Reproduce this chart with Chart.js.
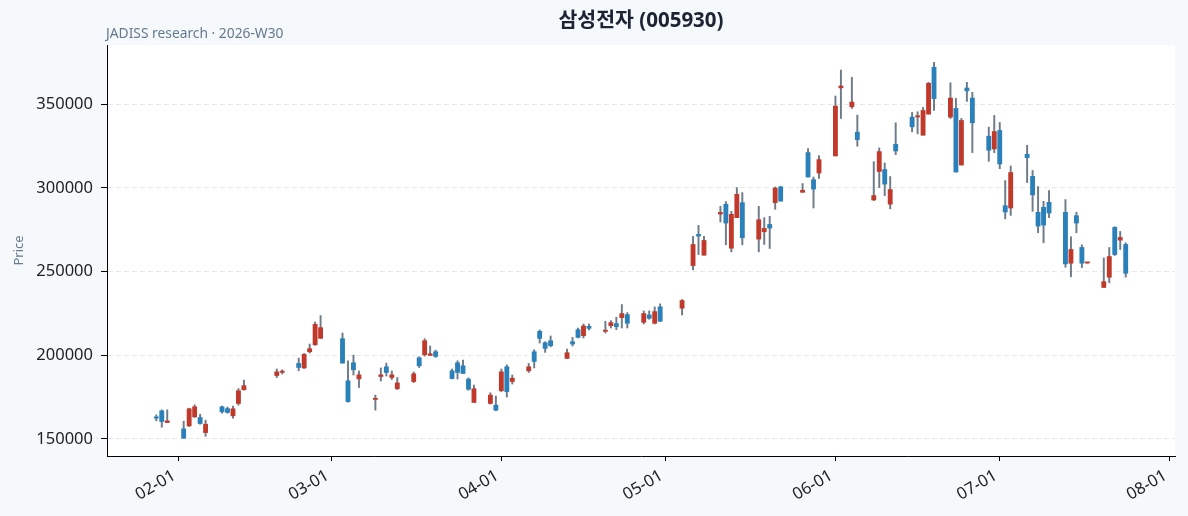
<!DOCTYPE html>
<html>
<head>
<meta charset="utf-8">
<script src="https://cdn.jsdelivr.net/npm/chart.js@4.4.1/dist/chart.umd.min.js"></script>
<style>
  html, body { margin: 0; padding: 0; background: #f5f9fc; }
  #wrap { width: 1188px; height: 516px; }
</style>
</head>
<body>
<div id="wrap"><canvas id="c" width="1188" height="516"></canvas></div>
<script>
'use strict';
// 삼성전자 (005930) — daily candles, Jan-Jul 2026
const TITLE = '삼성전자 (005930)';
const SUBTITLE = 'JADISS research · 2026-W30';
const Y_LABEL = 'Price';

const DATES = [
  '2026-01-28', '2026-01-29', '2026-01-30', '2026-02-02', '2026-02-03', '2026-02-04', '2026-02-05', '2026-02-06',
  '2026-02-09', '2026-02-10', '2026-02-11', '2026-02-12', '2026-02-13', '2026-02-19', '2026-02-20', '2026-02-23',
  '2026-02-24', '2026-02-25', '2026-02-26', '2026-02-27', '2026-03-03', '2026-03-04', '2026-03-05', '2026-03-06',
  '2026-03-09', '2026-03-10', '2026-03-11', '2026-03-12', '2026-03-13', '2026-03-16', '2026-03-17', '2026-03-18',
  '2026-03-19', '2026-03-20', '2026-03-23', '2026-03-24', '2026-03-25', '2026-03-26', '2026-03-27', '2026-03-30',
  '2026-03-31', '2026-04-01', '2026-04-02', '2026-04-03', '2026-04-06', '2026-04-07', '2026-04-08', '2026-04-09',
  '2026-04-10', '2026-04-13', '2026-04-14', '2026-04-15', '2026-04-16', '2026-04-17', '2026-04-20', '2026-04-21',
  '2026-04-22', '2026-04-23', '2026-04-24', '2026-04-27', '2026-04-28', '2026-04-29', '2026-04-30', '2026-05-04',
  '2026-05-06', '2026-05-07', '2026-05-08', '2026-05-11', '2026-05-12', '2026-05-13', '2026-05-14', '2026-05-15',
  '2026-05-18', '2026-05-19', '2026-05-20', '2026-05-21', '2026-05-22', '2026-05-26', '2026-05-27', '2026-05-28',
  '2026-05-29', '2026-06-01', '2026-06-02', '2026-06-04', '2026-06-05', '2026-06-08', '2026-06-09', '2026-06-10',
  '2026-06-11', '2026-06-12', '2026-06-15', '2026-06-16', '2026-06-17', '2026-06-18', '2026-06-19', '2026-06-22',
  '2026-06-23', '2026-06-24', '2026-06-25', '2026-06-26', '2026-06-29', '2026-06-30', '2026-07-01', '2026-07-02',
  '2026-07-03', '2026-07-06', '2026-07-07', '2026-07-08', '2026-07-09', '2026-07-10', '2026-07-13', '2026-07-14',
  '2026-07-15', '2026-07-16', '2026-07-17', '2026-07-20', '2026-07-21', '2026-07-22', '2026-07-23', '2026-07-24',
];
const OPEN = [
  163200, 166800, 159800, 156000, 157800, 163200, 162800, 153800, 169200, 168100, 163800, 171200, 179400, 187900, 189800, 195100,
  192400, 202100, 206300, 210100, 209900, 184700, 195500, 185900, 173600, 187300, 193100, 186700, 180000, 184300, 198500, 200300,
  199900, 202100, 190700, 195500, 193700, 185700, 171800, 171200, 170200, 178800, 193100, 184300, 190700, 202100, 214300, 207500,
  208700, 198100, 208100, 215300, 211700, 217300, 214300, 217700, 218900, 222500, 224300, 219700, 224100, 219100, 228900, 228100,
  253600, 272200, 259800, 284400, 290200, 264000, 282200, 291200, 269400, 273800, 278200, 291200, 300600, 297400, 321100, 304900,
  308900, 319100, 359800, 348500, 333300, 292800, 309800, 311000, 290300, 326100, 342300, 342400, 331500, 344100, 372100, 342300,
  347500, 313700, 359700, 353700, 330900, 323300, 334300, 289400, 288000, 320100, 306900, 285400, 288400, 291400, 285400, 255000,
  283400, 264400, 255100, 240500, 246600, 276400, 268800, 266200,
];
const HIGH = [
  164400, 167400, 167400, 160600, 168400, 170400, 164800, 161200, 169600, 169000, 169600, 180100, 185200, 191800, 191300, 198300,
  201100, 206700, 219900, 223700, 213300, 196700, 200100, 190600, 176200, 192400, 195300, 190600, 186700, 190000, 199100, 209900,
  205500, 203100, 191800, 196700, 197100, 186500, 182200, 177600, 175600, 191800, 194300, 188200, 195100, 203300, 215100, 208100,
  211500, 203700, 210700, 216300, 218700, 218700, 220300, 220700, 222700, 230300, 225500, 226500, 226500, 228900, 230700, 233300,
  271000, 277600, 271000, 289000, 291800, 286000, 300200, 297200, 289000, 282200, 283000, 300600, 301000, 302600, 323500, 306500,
  319300, 354900, 370400, 366100, 343500, 315700, 323900, 314900, 306800, 338900, 345100, 345500, 348100, 363100, 375100, 362800,
  353500, 341500, 363100, 357100, 336300, 343300, 339100, 304400, 313100, 325500, 310400, 300800, 292000, 298400, 293000, 270800,
  285400, 266000, 255500, 258200, 264400, 276800, 274000, 267200,
];
const LOW = [
  160800, 157000, 159800, 150400, 157400, 162800, 158800, 151600, 165400, 165400, 162400, 170200, 179200, 186700, 188800, 190700,
  192100, 201300, 205900, 210100, 195300, 172000, 188200, 180700, 167200, 184600, 187600, 185500, 179500, 183700, 192700, 199500,
  199900, 198700, 185800, 185800, 189100, 179100, 171800, 170800, 166800, 178300, 175000, 182800, 189700, 192400, 207300, 201700,
  205000, 198100, 205500, 210300, 210300, 215100, 213300, 216300, 215300, 216300, 216300, 218700, 221500, 218700, 220300, 224100,
  251000, 260200, 259800, 279600, 266000, 261800, 282200, 266000, 261800, 266200, 263800, 287200, 292100, 297400, 306500, 288000,
  305700, 319100, 341500, 347500, 324900, 292400, 300200, 295400, 287500, 319900, 333500, 332300, 331500, 344100, 346300, 341500,
  309500, 313700, 351700, 321100, 315900, 321100, 311500, 281500, 283600, 303200, 286000, 273200, 267200, 282200, 252600, 246900,
  273200, 252400, 255000, 240500, 243300, 259600, 263200, 246700,
];
const CLOSE = [
  162400, 160400, 160800, 150400, 168000, 169200, 159200, 158800, 166200, 165800, 168000, 178800, 181800, 190100, 190100, 192700,
  200500, 203900, 218500, 216500, 195300, 172300, 191300, 188300, 173900, 188300, 189700, 188300, 183500, 188900, 193700, 208700,
  200900, 199300, 186100, 189700, 189100, 179700, 180000, 176200, 167200, 190100, 178300, 186300, 193100, 196300, 210100, 204100,
  205700, 201500, 206700, 210700, 217500, 216100, 214900, 219500, 217100, 224900, 219100, 224900, 222100, 226100, 220300, 232700,
  266200, 271200, 268600, 285400, 279000, 284200, 296200, 270200, 281000, 275800, 276000, 299900, 292100, 298600, 306500, 299300,
  316900, 348900, 360900, 351300, 328900, 295400, 321700, 302300, 299000, 322100, 336500, 342900, 346300, 362500, 353300, 353700,
  309500, 340300, 358000, 338900, 322500, 333700, 314300, 285600, 309200, 318100, 295800, 277200, 277800, 285000, 254600, 263200,
  279000, 255000, 255400, 244000, 259000, 260200, 270400, 249000,
];
const X_TICKS = ['2026-02-01', '2026-03-01', '2026-04-01', '2026-05-01', '2026-06-01', '2026-07-01', '2026-08-01'];
const Y_TICKS = [150000, 200000, 250000, 300000, 350000];

const UP = '#c0392b', DOWN = '#2a80b9', WICK = '#6e7b89';
const FONT = '"Noto Sans", "Noto Sans CJK KR", sans-serif';

const T0 = Date.UTC(2026, 1, 1);
const day = s => { const [y, m, d] = s.split('-').map(Number); return (Date.UTC(y, m - 1, d) - T0) / 864e5; };
const mmdd = v => { const d = new Date(T0 + Math.round(v) * 864e5); return String(d.getUTCMonth() + 1).padStart(2, '0') + '-' + String(d.getUTCDate()).padStart(2, '0'); };

const bodies = DATES.map((d, i) => ({ x: day(d), y: [OPEN[i], CLOSE[i]] }));
const wicks = DATES.map((d, i) => ({ x: day(d), y: [LOW[i], HIGH[i]] }));
const bodyColors = DATES.map((d, i) => (CLOSE[i] >= OPEN[i] ? UP : DOWN));

// fond figure + zone de tracé blanche, titres
const frame = {
  id: 'frame',
  beforeDraw(chart) {
    const { ctx, chartArea: a, width, height } = chart;
    ctx.save();
    ctx.fillStyle = '#f5f9fc'; ctx.fillRect(0, 0, width, height);
    ctx.fillStyle = '#ffffff'; ctx.fillRect(a.left, a.top, a.right - a.left, a.bottom - a.top);
    ctx.restore();
  },
  afterDraw(chart) {
    const { ctx, chartArea: a } = chart;
    ctx.save();
    ctx.fillStyle = '#1c2333'; ctx.font = `bold 20.5px ${FONT}`; ctx.textAlign = 'center'; ctx.textBaseline = 'middle';
    ctx.fillText(TITLE, (a.left + a.right) / 2, 21);
    ctx.fillStyle = '#66788c'; ctx.font = `13.8px ${FONT}`; ctx.textAlign = 'left'; ctx.textBaseline = 'alphabetic';
    ctx.fillText(SUBTITLE, a.left - 1, 38);
    ctx.translate(19, (a.top + a.bottom) / 2); ctx.rotate(-Math.PI / 2);
    ctx.fillStyle = '#6b7b8c'; ctx.font = `13px ${FONT}`; ctx.textAlign = 'center'; ctx.textBaseline = 'middle';
    ctx.fillText(Y_LABEL, 0, 0);
    ctx.restore();
  },
};

new Chart(document.getElementById('c').getContext('2d'), {
  type: 'bar',
  data: {
    datasets: [
      { data: bodies, backgroundColor: bodyColors, borderWidth: 0, barThickness: 4.2, minBarLength: 1.2, grouped: false, order: 0 },
      { data: wicks, backgroundColor: WICK, borderWidth: 0, barThickness: 1.3, grouped: false, order: 1 },
    ],
  },
  options: {
    responsive: false, animation: false, devicePixelRatio: 1,
    layout: { padding: { top: 45, right: 13, left: 0, bottom: 0 } },
    plugins: { legend: { display: false }, tooltip: { enabled: false }, title: { display: false } },
    scales: {
      x: {
        type: 'linear', min: -13, max: 182, offset: false,
        afterBuildTicks: s => { s.ticks = X_TICKS.map(d => ({ value: day(d) })); },
        afterFit: s => { s.height = 60; },
        grid: { offset: false, drawOnChartArea: false, drawTicks: true, tickLength: 5, tickColor: '#000' },
        border: { color: '#000', width: 1 },
        ticks: { autoSkip: false, minRotation: 30, maxRotation: 30, padding: 5, labelOffset: -4, color: '#222', font: { family: FONT, size: 16.5 }, callback: v => mmdd(v) },
      },
      y: {
        min: 139800, max: 385400,
        afterBuildTicks: s => { s.ticks = Y_TICKS.map(v => ({ value: v })); },
        afterFit: s => { s.width = 107; },
        grid: { color: '#e9e9e9', lineWidth: 1, tickLength: 6, tickColor: '#000', tickBorderDash: [] },
        border: { color: '#000', width: 1, dash: [5, 3] },
        ticks: { padding: 8, color: '#222', font: { family: FONT, size: 16.5 }, callback: v => String(v) },
      },
    },
  },
  plugins: [frame],
});
</script>
</body>
</html>
